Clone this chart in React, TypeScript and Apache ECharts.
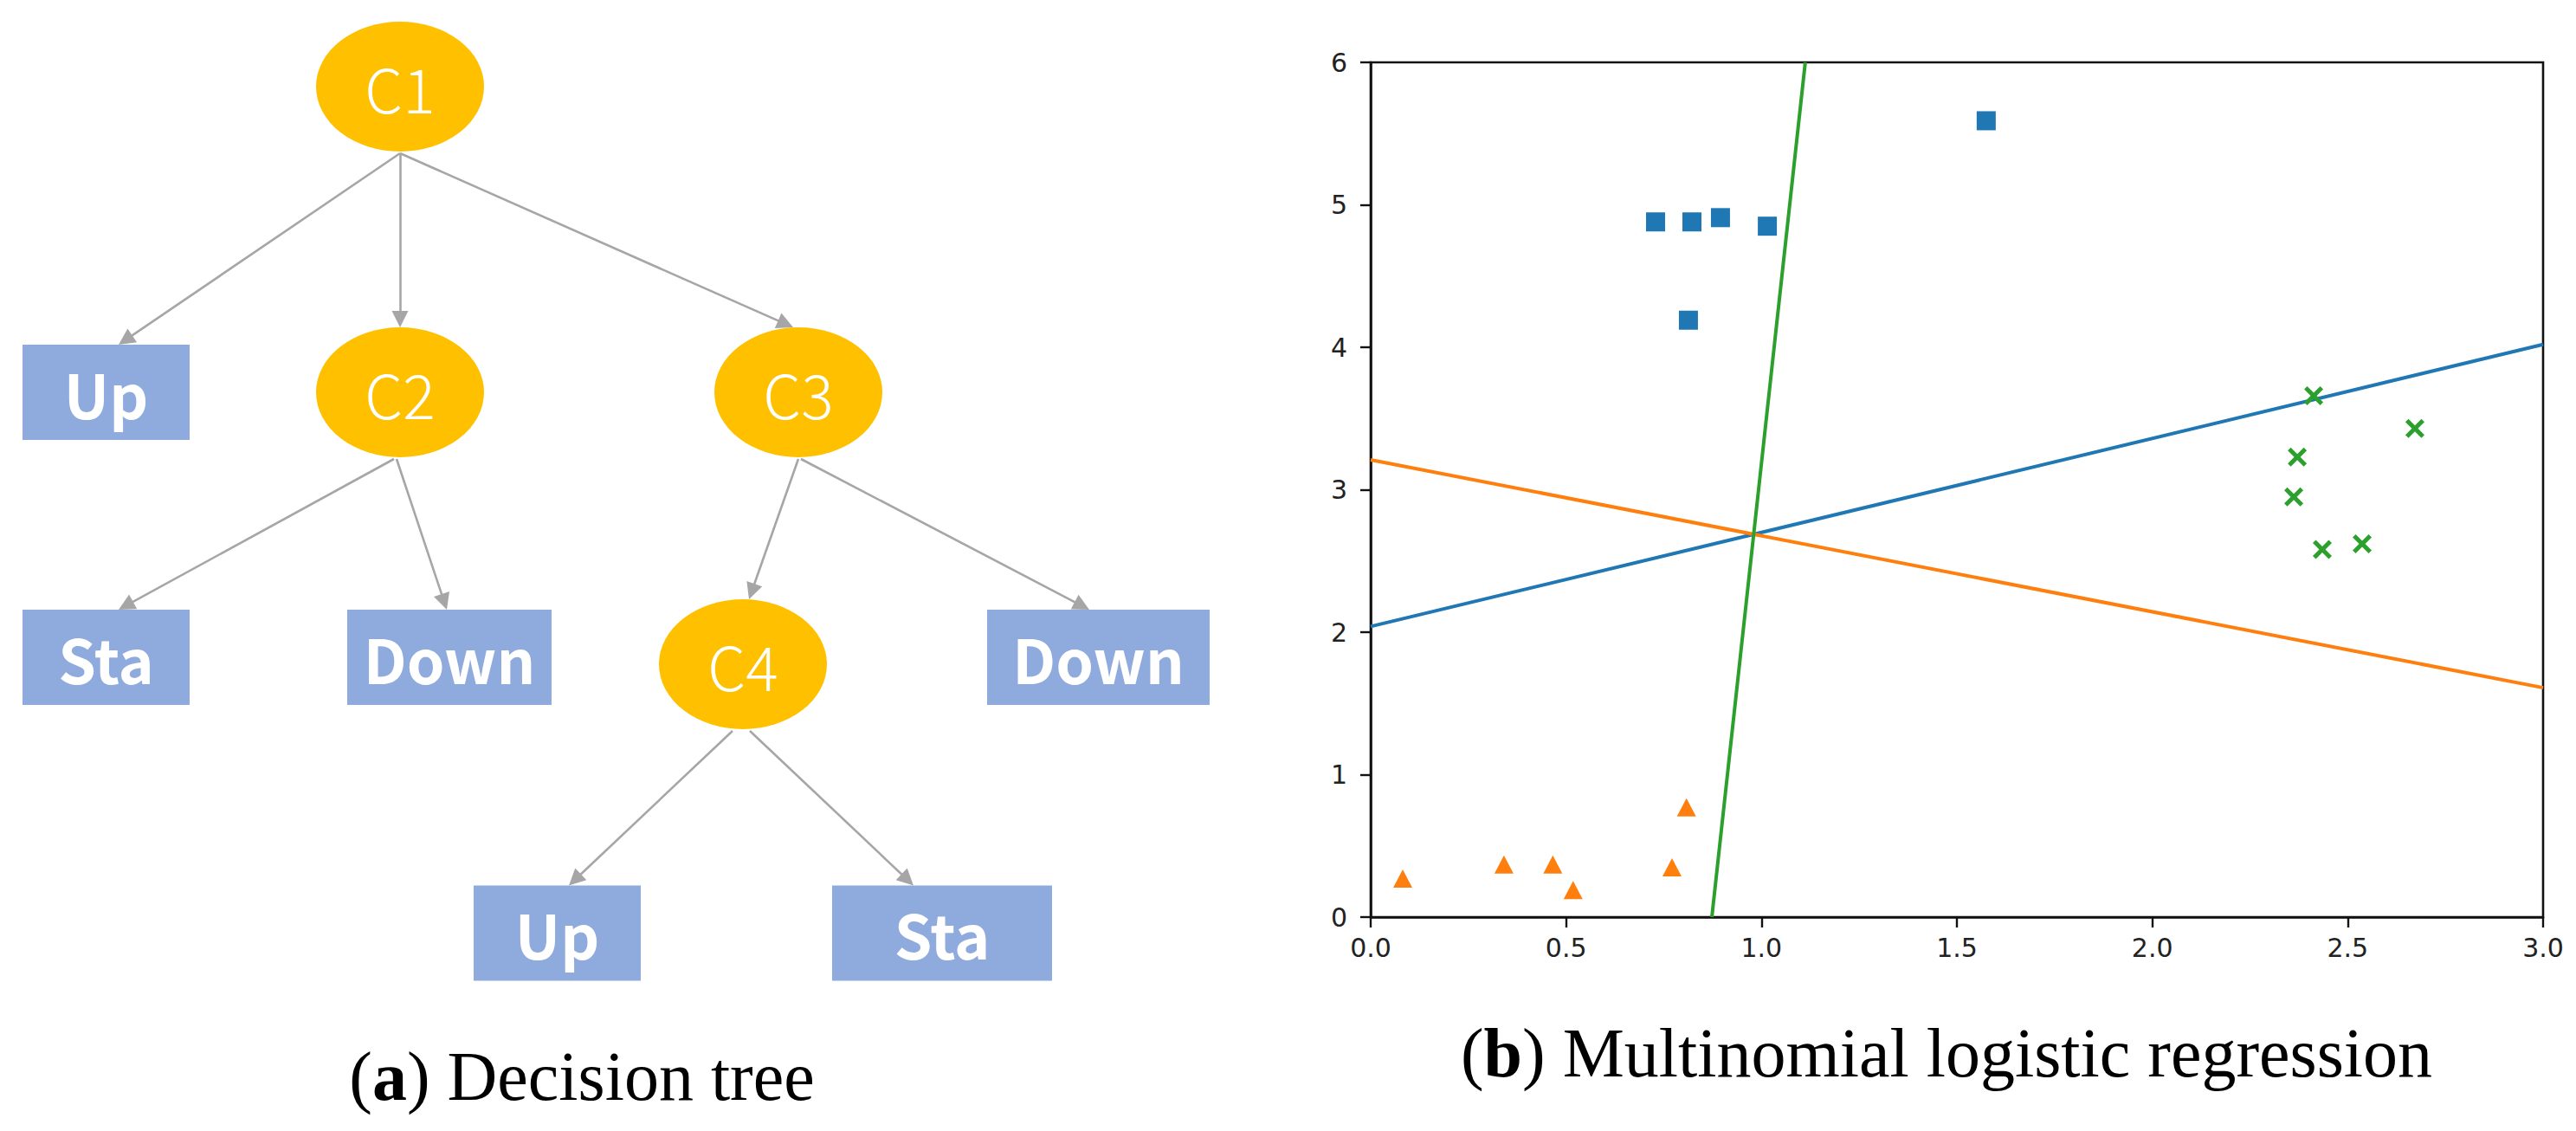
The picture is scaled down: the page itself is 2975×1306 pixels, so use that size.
import React, { useEffect, useRef } from "react";
import * as echarts from "echarts";

const PAGE_W = 2975;
const PAGE_H = 1306;

// ---------- (b) Multinomial logistic regression : scatter data ----------
const squareX = [0.729, 0.822, 0.895, 1.015, 1.575, 0.813];
const squareY = [4.88, 4.88, 4.91, 4.85, 5.59, 4.19];
const triangleX = [0.082, 0.341, 0.466, 0.518, 0.771, 0.808];
const triangleY = [0.27, 0.37, 0.37, 0.19, 0.35, 0.77];
const crossX = [2.413, 2.672, 2.371, 2.362, 2.435, 2.537];
const crossY = [3.66, 3.43, 3.23, 2.95, 2.58, 2.62];

// decision boundaries (end points)
const blueBoundaryX = [0, 3];
const blueBoundaryY = [2.04, 4.02];
const orangeBoundaryX = [0, 3];
const orangeBoundaryY = [3.21, 1.61];
const greenBoundaryX = [0.873, 1.112];
const greenBoundaryY = [0, 6];

const xTickLabels = ["0.0", "0.5", "1.0", "1.5", "2.0", "2.5", "3.0"];
const yTickLabels = ["0", "1", "2", "3", "4", "5", "6"];

// ---------- (a) Decision tree : layout data ----------
const nodeNames = ["C1", "C2", "C3", "C4", "Up", "Sta", "Down", "Down", "Up", "Sta"];
const nodeIsSplit = [true, true, true, true, false, false, false, false, false, false];
const nodeX = [462, 462, 922, 858, 122.5, 122.5, 519, 1268.5, 643.5, 1088];
const nodeY = [100, 453, 453, 767, 453, 759, 759, 759, 1077.5, 1077.5];
const leafWidths = [0, 0, 0, 0, 193, 193, 236, 257, 193, 254];

const edgeFrom = [0, 0, 0, 1, 1, 2, 2, 3, 3];
const edgeTo = [4, 1, 2, 5, 6, 3, 7, 8, 9];
const edgeStartX = [462, 462, 462, 455, 458, 922, 925, 846, 866];
const edgeEndX = [137, 462, 916, 137, 516, 865, 1258, 657, 1055];

const captionA = "({b|a}) Decision tree";
const captionB = "({b|b}) Multinomial logistic regression";

// styles
const ELLIPSE_W = 194;
const ELLIPSE_H = 150;
const LEAF_H = 110;
const ARROW = 19;
const ellipsePath = "path://M0,1 A1,1 0 1 1 2,1 A1,1 0 1 1 0,1 Z";
const crossPath =
  "path://M0,16 L16,0 L50,34 L84,0 L100,16 L66,50 L100,84 L84,100 L50,66 L16,100 L0,84 L34,50 Z";

function halfH(i: number) {
  return nodeIsSplit[i] ? ELLIPSE_H / 2 : LEAF_H / 2;
}

function buildEdges() {
  return edgeFrom.map((f, k) => {
    const t = edgeTo[k];
    const sx = edgeStartX[k];
    const sy = nodeY[f] + halfH(f) + 2;
    const ex = edgeEndX[k];
    const ey = nodeY[t] - halfH(t);
    const dx = ex - sx;
    const dy = ey - sy;
    const len = Math.sqrt(dx * dx + dy * dy);
    const ux = dx / len;
    const uy = dy / len;
    return {
      coords: [
        [sx, sy],
        [ex - (ux * ARROW) / 2, ey - (uy * ARROW) / 2],
      ],
    };
  });
}

const pairs = (xs: number[], ys: number[]) => xs.map((x, i) => [x, ys[i]]);

export default function App() {
  const ref = useRef<HTMLDivElement>(null);

  useEffect(() => {
    if (!ref.current) return;
    const chart = echarts.init(ref.current, null, { renderer: "svg" });

    const axisColor = "#111";
    const labelColor = "#222";

    const splitNodes = nodeNames
      .map((n, i) => ({ name: n, value: [nodeX[i], nodeY[i]], i }))
      .filter((d) => nodeIsSplit[d.i])
      .map((d) => ({ name: d.name, value: d.value }));
    const leafNodes = nodeNames
      .map((n, i) => ({ name: n, value: [nodeX[i], nodeY[i]], i }))
      .filter((d) => !nodeIsSplit[d.i])
      .map((d) => ({
        name: d.name,
        value: d.value,
        symbolSize: [leafWidths[d.i], LEAF_H],
      }));

    const option: any = {
      animation: false,
      backgroundColor: "#ffffff",
      grid: [
        {
          left: 1583,
          top: 72,
          width: 1354,
          height: 987,
          show: true,
          borderColor: axisColor,
          borderWidth: 2.6,
          backgroundColor: "transparent",
        },
        { left: 0, top: 0, width: 1450, height: 1306 },
      ],
      xAxis: [
        {
          type: "value",
          gridIndex: 0,
          min: 0,
          max: 3,
          interval: 0.5,
          axisLine: { show: true, lineStyle: { color: axisColor, width: 2.6 } },
          axisTick: { show: true, inside: false, length: 12, lineStyle: { color: axisColor, width: 2.4 } },
          splitLine: { show: false },
          axisLabel: {
            margin: 20,
            fontSize: 30,
            fontFamily: "DejaVu Sans",
            color: labelColor,
            formatter: (_v: number, idx: number) => xTickLabels[idx],
          },
        },
        { type: "value", gridIndex: 1, min: 0, max: 1450, show: false },
      ],
      yAxis: [
        {
          type: "value",
          gridIndex: 0,
          min: 0,
          max: 6,
          interval: 1,
          axisLine: { show: true, lineStyle: { color: axisColor, width: 2.6 } },
          axisTick: { show: true, inside: false, length: 12, lineStyle: { color: axisColor, width: 2.4 } },
          splitLine: { show: false },
          axisLabel: {
            margin: 27,
            fontSize: 30,
            fontFamily: "DejaVu Sans",
            color: labelColor,
            formatter: (_v: number, idx: number) => yTickLabels[idx],
          },
        },
        { type: "value", gridIndex: 1, min: 0, max: 1306, inverse: true, show: false },
      ],
      series: [
        // decision boundaries
        {
          type: "line",
          xAxisIndex: 0,
          yAxisIndex: 0,
          data: pairs(blueBoundaryX, blueBoundaryY),
          showSymbol: false,
          symbol: "none",
          lineStyle: { color: "#1f77b4", width: 4 },
          z: 2,
        },
        {
          type: "line",
          xAxisIndex: 0,
          yAxisIndex: 0,
          data: pairs(orangeBoundaryX, orangeBoundaryY),
          showSymbol: false,
          symbol: "none",
          lineStyle: { color: "#ff7f0e", width: 4 },
          z: 2,
        },
        {
          type: "line",
          xAxisIndex: 0,
          yAxisIndex: 0,
          data: pairs(greenBoundaryX, greenBoundaryY),
          showSymbol: false,
          symbol: "none",
          lineStyle: { color: "#2ca02c", width: 4 },
          z: 2,
        },
        // points
        {
          type: "scatter",
          xAxisIndex: 0,
          yAxisIndex: 0,
          data: pairs(squareX, squareY),
          symbol: "rect",
          symbolSize: 22,
          itemStyle: { color: "#1f77b4", opacity: 1 },
          z: 3,
        },
        {
          type: "scatter",
          xAxisIndex: 0,
          yAxisIndex: 0,
          data: pairs(triangleX, triangleY),
          symbol: "triangle",
          symbolSize: [22, 21],
          itemStyle: { color: "#ff7f0e", opacity: 1 },
          z: 3,
        },
        {
          type: "scatter",
          xAxisIndex: 0,
          yAxisIndex: 0,
          data: pairs(crossX, crossY),
          symbol: crossPath,
          symbolSize: 22,
          itemStyle: { color: "#2ca02c", opacity: 1 },
          z: 3,
        },
        // tree edges
        {
          type: "lines",
          coordinateSystem: "cartesian2d",
          xAxisIndex: 1,
          yAxisIndex: 1,
          data: buildEdges(),
          symbol: ["none", "triangle"],
          symbolSize: ARROW,
          lineStyle: { color: "#a6a6a6", width: 2.6, opacity: 1, curveness: 0 },
          z: 2,
        },
        // tree split nodes
        {
          type: "scatter",
          xAxisIndex: 1,
          yAxisIndex: 1,
          data: splitNodes,
          symbol: ellipsePath,
          symbolSize: [ELLIPSE_W, ELLIPSE_H],
          itemStyle: { color: "#ffc000", opacity: 1 },
          label: {
            show: true,
            position: "inside",
            formatter: "{b}",
            color: "#ffffff",
            fontSize: 70,
            fontFamily: "Noto Sans CJK SC",
            fontWeight: 300,
          },
          z: 3,
        },
        // tree leaves
        {
          type: "scatter",
          xAxisIndex: 1,
          yAxisIndex: 1,
          data: leafNodes,
          symbol: "rect",
          itemStyle: { color: "#8faadc", opacity: 1 },
          label: {
            show: true,
            position: "inside",
            formatter: "{b}",
            color: "#ffffff",
            fontSize: 70,
            fontFamily: "Noto Sans CJK SC",
            fontWeight: "bold",
          },
          z: 3,
        },
      ],
      graphic: [
        {
          type: "text",
          x: 672,
          y: 1243,
          style: {
            text: captionA,
            fill: "#000",
            fontSize: 80,
            fontFamily: "Liberation Serif",
            align: "center",
            verticalAlign: "middle",
            rich: {
              b: { fontSize: 80, fontFamily: "Liberation Serif", fontWeight: "bold", fill: "#000" },
            },
          },
        },
        {
          type: "text",
          x: 2248,
          y: 1216,
          style: {
            text: captionB,
            fill: "#000",
            fontSize: 80,
            fontFamily: "Liberation Serif",
            align: "center",
            verticalAlign: "middle",
            rich: {
              b: { fontSize: 80, fontFamily: "Liberation Serif", fontWeight: "bold", fill: "#000" },
            },
          },
        },
      ],
    };

    chart.setOption(option);
    return () => chart.dispose();
  }, []);

  return (
    <div
      ref={ref}
      style={{
        position: "fixed",
        left: 0,
        top: 0,
        width: PAGE_W + "px",
        height: PAGE_H + "px",
        background: "#ffffff",
      }}
    />
  );
}
